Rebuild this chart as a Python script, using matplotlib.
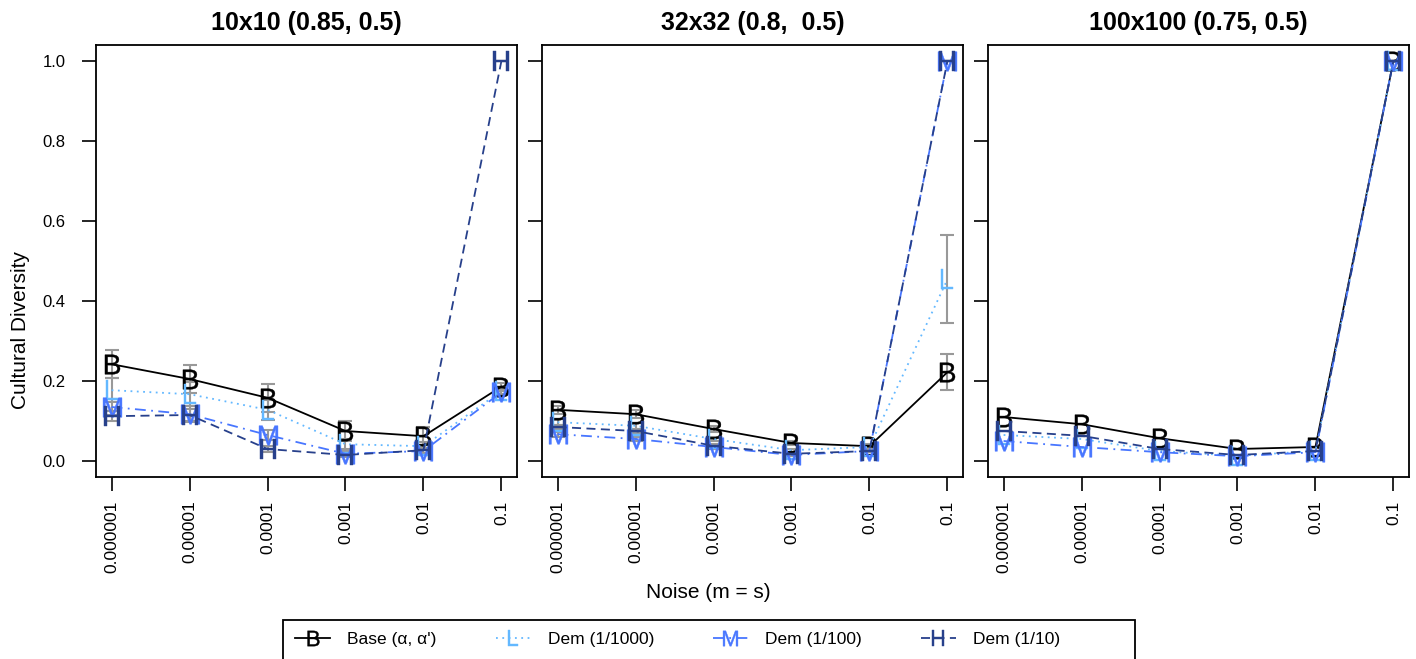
import matplotlib
matplotlib.use('Agg')
import matplotlib.pyplot as plt
from matplotlib.lines import Line2D
from matplotlib.patches import Rectangle

plt.rcParams['font.family'] = ['Liberation Sans', 'DejaVu Sans']
plt.rcParams['mathtext.fontset'] = 'custom'
plt.rcParams['mathtext.rm'] = 'Liberation Sans'

noise_labels = ['0.000001', '0.00001', '0.0001', '0.001', '0.01', '0.1']
titles = ['10x10 (0.85, 0.5)', '32x32 (0.8,  0.5)', '100x100 (0.75, 0.5)']
series_names = ['Base (\u03b1, \u03b1\')', 'Dem (1/1000)', 'Dem (1/100)', 'Dem (1/10)']
letters = ['B', 'L', 'M', 'H']

# 10x10
base_10 = [0.242, 0.205, 0.158, 0.075, 0.062, 0.186]
low_10 = [0.177, 0.167, 0.128, 0.042, 0.037, 0.175]
mid_10 = [0.135, 0.117, 0.065, 0.018, 0.025, 0.172]
high_10 = [0.112, 0.115, 0.030, 0.015, 0.027, 1.0]
base_10_err = [0.035, 0.035, 0.035, 0.025, 0.022, 0.010]
low_10_err = [0.030, 0.030, 0.025, 0.012, 0.010, 0.008]
mid_10_err = [0.020, 0.020, 0.012, 0.008, 0.006, 0.008]
high_10_err = [0.012, 0.015, 0.008, 0.005, 0.006, 0.0]

# 32x32
base_32 = [0.128, 0.117, 0.080, 0.045, 0.037, 0.222]
low_32 = [0.097, 0.088, 0.055, 0.027, 0.035, 0.454]
mid_32 = [0.067, 0.055, 0.035, 0.015, 0.025, 1.0]
high_32 = [0.085, 0.075, 0.038, 0.018, 0.025, 1.0]
base_32_err = [0.010, 0.010, 0.008, 0.005, 0.005, 0.045]
low_32_err = [0.008, 0.008, 0.006, 0.004, 0.004, 0.110]
mid_32_err = [0.006, 0.006, 0.004, 0.003, 0.003, 0.0]
high_32_err = [0.006, 0.006, 0.004, 0.003, 0.003, 0.0]

# 100x100
base_100 = [0.110, 0.092, 0.057, 0.030, 0.035, 1.0]
low_100 = [0.065, 0.055, 0.025, 0.013, 0.025, 1.0]
mid_100 = [0.050, 0.035, 0.022, 0.012, 0.022, 1.0]
high_100 = [0.075, 0.063, 0.030, 0.015, 0.025, 1.0]

panels = [
    ([base_10, low_10, mid_10, high_10], [base_10_err, low_10_err, mid_10_err, high_10_err]),
    ([base_32, low_32, mid_32, high_32], [base_32_err, low_32_err, mid_32_err, high_32_err]),
    ([base_100, low_100, mid_100, high_100], None),
]

colors = ['black', '#63B8FF', '#4876FF', '#27408B']
styles = ['-', (0, (1, 2.5)), (0, (6, 3, 1, 3)), (0, (5, 3))]

fig = plt.figure(figsize=(14.16, 6.59), dpi=100)
W, H = 1416, 659
lefts = [96, 542, 988]
pw = 421
top, bottom = 45, 477
x = list(range(1, 7))

for i, (vals, errs) in enumerate(panels):
    ax = fig.add_axes([lefts[i] / W, 1 - bottom / H, pw / W, (bottom - top) / H])
    # grey error bars under the lines
    if errs is not None:
        for y, e in zip(vals, errs):
            ax.errorbar(x, y, yerr=e, fmt='none', ecolor='#999999',
                        elinewidth=1.5, capsize=5, capthick=1.5, zorder=1)
    for k in range(4):
        ax.plot(x, vals[k], color=colors[k], linestyle=styles[k], lw=1.3,
                marker='$\\mathrm{%s}$' % letters[k], markersize=14,
                markeredgewidth=0.3, zorder=2 + k)
    ax.set_xlim(0.8, 6.2)
    ax.set_ylim(-0.04, 1.04)
    ax.set_xticks(x)
    ax.set_xticklabels(noise_labels, rotation=90, fontsize=12.5)
    ax.set_yticks([0, 0.2, 0.4, 0.6, 0.8, 1.0])
    if i == 0:
        ax.set_yticklabels(['0.0', '0.2', '0.4', '0.6', '0.8', '1.0'], fontsize=12)
    else:
        ax.set_yticklabels([])
    ax.tick_params(length=10, width=1.2)
    ax.tick_params(axis='x', pad=7)
    ax.tick_params(axis='y', pad=12)
    for s in ax.spines.values():
        s.set_linewidth(1.3)
    ax.set_title(titles[i], fontsize=18, fontweight='bold', pad=11)

fig.text(21 / W, 1 - 330 / H, 'Cultural Diversity', fontsize=15, rotation=90,
         ha='center', va='center')
fig.text(708 / W, 1 - 593 / H, 'Noise (m = s)', fontsize=15, ha='center', va='center')

handles = [Line2D([], [], color=colors[k], linestyle=styles[k], lw=1.3,
                  marker='$\\mathrm{%s}$' % letters[k], markersize=11,
                  markeredgewidth=0.3) for k in range(4)]
leg = fig.legend(handles, series_names, loc='upper left',
                 bbox_to_anchor=(283 / W, 1 - 620 / H), ncol=4, fontsize=12.5,
                 frameon=False, handlelength=2.0, handletextpad=1.0,
                 columnspacing=3.4, borderaxespad=0, borderpad=0.7)
# legend box runs past the bottom edge, as in the original
fig.add_artist(Rectangle((283 / W, 1 - 680 / H), (1135 - 283) / W, 60 / H,
                         transform=fig.transFigure, fill=False,
                         edgecolor='black', lw=1.3))

fig.savefig('out.png', dpi=100)
